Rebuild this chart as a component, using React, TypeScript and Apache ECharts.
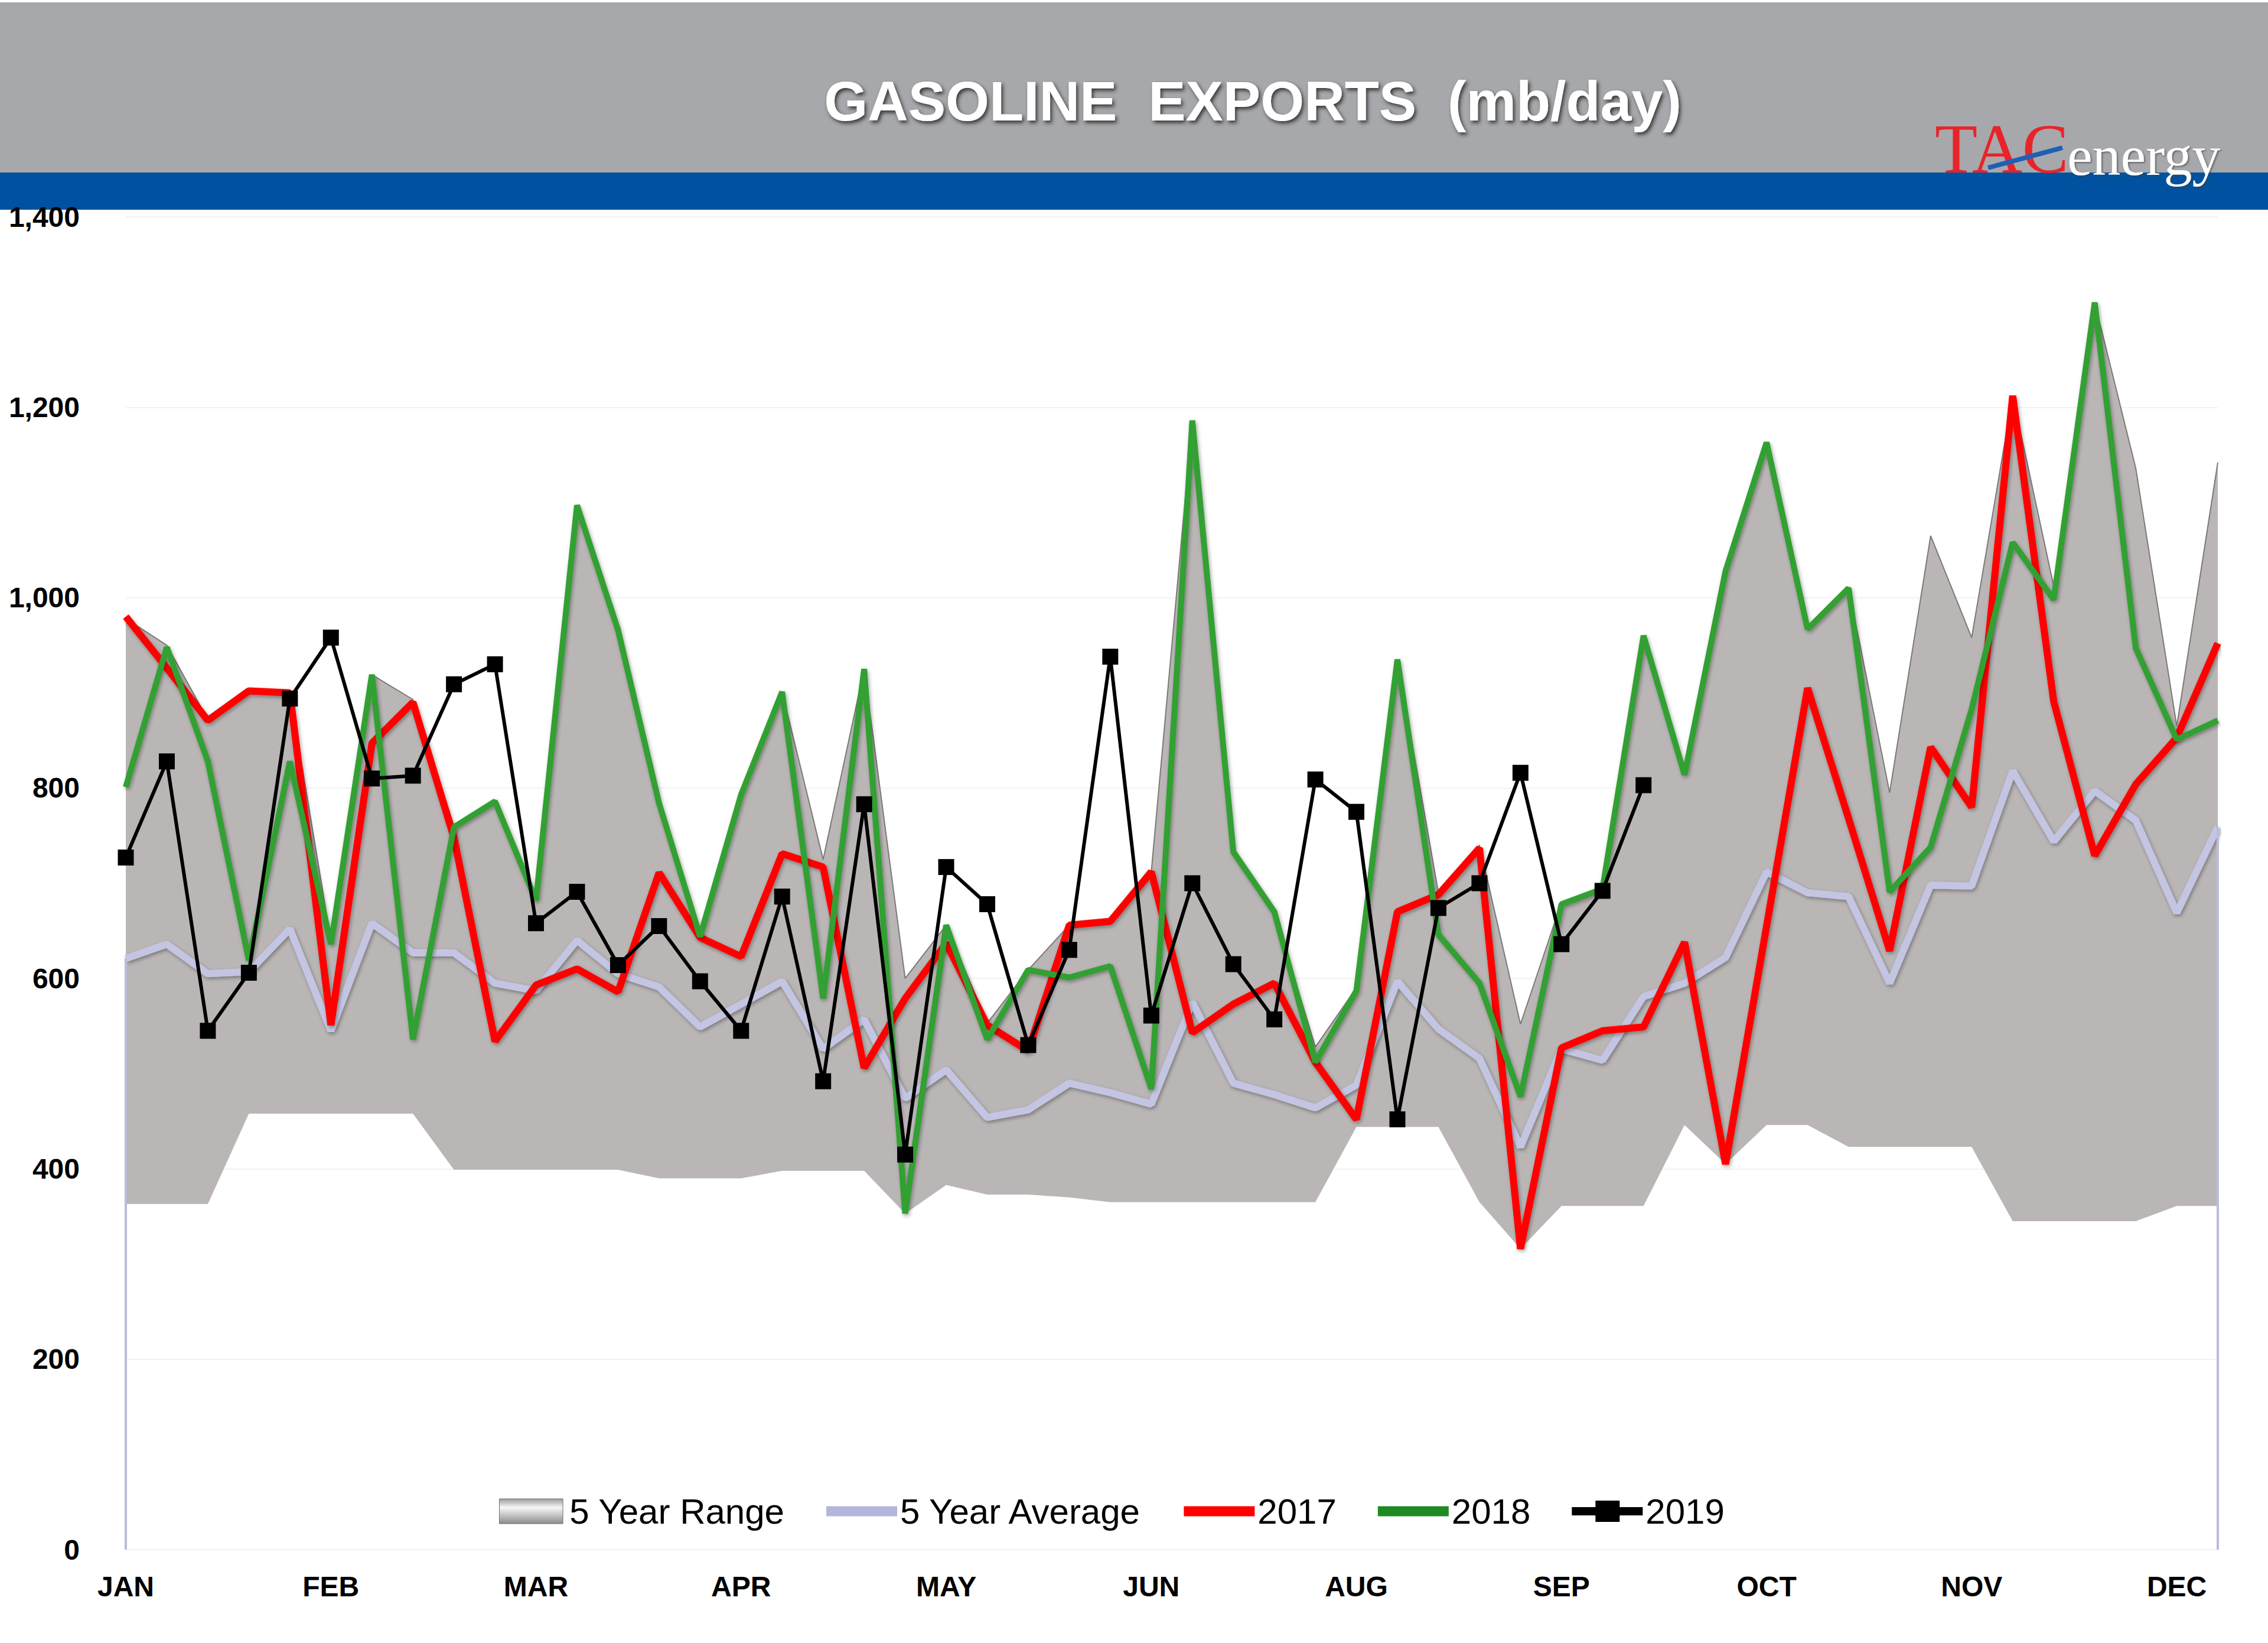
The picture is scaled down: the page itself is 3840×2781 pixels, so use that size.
import React, { useEffect, useRef } from 'react';
import * as echarts from 'echarts';

const monthTicks = ['JAN', 'FEB', 'MAR', 'APR', 'MAY', 'JUN', 'AUG', 'SEP', 'OCT', 'NOV', 'DEC'];
const weeks = Array.from({ length: 52 }, (_, i) => `W${i + 1}`);

const rangeLow = [363, 363, 363, 458, 458, 458, 458, 458, 399, 399, 399, 399, 399, 390, 390, 390, 398, 398, 398, 353,
  383, 373, 373, 370, 365, 365, 365, 365, 365, 365, 444, 444, 444, 365, 316, 361, 361, 361, 446, 405,
  446, 446, 423, 423, 423, 423, 345, 345, 345, 345, 361, 361];
const rangeHigh = [978, 950, 872, 903, 900, 640, 919, 893, 760, 786, 684, 1097, 966, 785, 649, 793, 901, 725, 925, 600,
  656, 553, 609, 656, 663, 712, 1186, 733, 670, 528, 590, 935, 690, 740, 552, 680, 696, 960, 815, 1028,
  1163, 966, 1010, 795, 1065, 958, 1212, 1012, 1310, 1136, 865, 1142];
const avg5 = [621, 636, 605, 607, 652, 545, 658, 627, 627, 595, 587, 640, 605, 591, 549, 573, 597, 526, 557, 474,
  504, 454, 462, 490, 480, 468, 575, 490, 478, 464, 488, 597, 547, 516, 423, 526, 514, 581, 595, 622,
  712, 690, 686, 595, 698, 697, 818, 744, 797, 766, 669, 759];
const y2017 = [980, 926, 871, 902, 900, 551, 847, 890, 748, 534, 593, 610, 586, 711, 643, 623, 731, 717, 506, 579,
  637, 551, 524, 656, 660, 712, 543, 573, 595, 512, 452, 670, 688, 737, 316, 527, 545, 549, 638, 405,
  655, 905, 768, 629, 843, 780, 1212, 891, 729, 804, 853, 952];
const y2018 = [801, 948, 828, 619, 828, 636, 919, 536, 759, 786, 682, 1097, 966, 784, 644, 793, 901, 579, 925, 353,
  656, 536, 609, 601, 613, 484, 1186, 733, 670, 512, 587, 935, 646, 595, 476, 678, 694, 960, 814, 1028,
  1163, 967, 1010, 691, 738, 883, 1058, 998, 1310, 947, 851, 871];
const y2019 = [727, 828, 545, 606, 894, 958, 810, 813, 909, 930, 658, 691, 614, 655, 597, 545, 686, 492, 783, 415,
  717, 678, 530, 630, 938, 561, 700, 615, 557, 809, 775, 452, 674, 700, 816, 636, 692, 803];

const FONT = '"Liberation Sans", Arial, sans-serif';
const LINE_ICON = 'path://M0,0H120V17H0Z';
const MARKER_ICON = 'path://M0,11H120V25H0Z M40,0H81V36H40Z';
const RANGE_ICON = 'path://M0,0H105V41H0Z';

export default function App() {
  const ref = useRef<HTMLDivElement>(null);

  useEffect(() => {
    if (!ref.current) return;
    const chart = echarts.init(ref.current, null, { renderer: 'svg' });
    const band = rangeHigh.map((h, i) => h - rangeLow[i]);
    const shadow = { shadowColor: 'rgba(0,0,0,0.35)', shadowBlur: 6, shadowOffsetX: 2, shadowOffsetY: 3 };

    const option: any = {
      animation: false,
      backgroundColor: '#ffffff',
      grid: { left: 213, right: 85, top: 367, bottom: 158, containLabel: false },
      graphic: [
        { type: 'rect', shape: { x: 0, y: 4, width: 3840, height: 288 }, style: { fill: '#a7a8ab' }, z: 0 },
        { type: 'rect', shape: { x: 0, y: 292, width: 3840, height: 63 }, style: { fill: '#0052a0' }, z: 0 },
        {
          type: 'text', x: 2121, y: 171, z: 10,
          style: {
            text: 'GASOLINE  EXPORTS  (mb/day)', fill: '#ffffff', fontSize: 95, fontWeight: 'bold', fontFamily: FONT,
            textAlign: 'center', textVerticalAlign: 'middle',
            textShadowColor: 'rgba(40,40,40,0.85)', textShadowBlur: 6, textShadowOffsetX: 3, textShadowOffsetY: 4,
          },
        },
        {
          type: 'text', x: 3276, y: 252, z: 10,
          style: {
            text: 'TAC', fill: '#e8242a', fontSize: 118, fontFamily: '"Liberation Serif", "Times New Roman", serif',
            textAlign: 'left', textVerticalAlign: 'middle',
          },
        },
        {
          type: 'line', z: 11,
          shape: { x1: 3366, y1: 284, x2: 3492, y2: 250 },
          style: { stroke: '#1f5fb5', lineWidth: 8 },
        },
        {
          type: 'text', x: 3500, y: 263, z: 10,
          style: {
            text: 'energy', fill: '#ffffff', fontSize: 96, fontFamily: '"Liberation Serif", "Times New Roman", serif',
            textAlign: 'left', textVerticalAlign: 'middle',
            textShadowColor: 'rgba(60,60,60,0.6)', textShadowBlur: 3, textShadowOffsetX: 2, textShadowOffsetY: 2,
          },
        },
      ],
      legend: {
        left: 845, top: 2528, itemGap: 70, itemWidth: 120, itemHeight: 42, padding: 0, symbolKeepAspect: true,
        textStyle: { fontSize: 60, color: '#000', fontFamily: FONT },
        data: [
          {
            name: '5 Year Range', icon: RANGE_ICON,
            itemStyle: {
              color: {
                type: 'linear', x: 0, y: 0, x2: 0, y2: 1,
                colorStops: [
                  { offset: 0, color: '#9b9b9b' }, { offset: 0.35, color: '#f7f7f7' }, { offset: 1, color: '#8c8c8c' },
                ],
              },
              borderColor: '#6f6f6f', borderWidth: 1,
            },
          },
          { name: '5 Year Average', icon: LINE_ICON, itemStyle: { color: '#b3b5da' } },
          { name: '2017', icon: LINE_ICON, itemStyle: { color: '#ff0000' } },
          { name: '2018', icon: LINE_ICON, itemStyle: { color: '#1f8a22' } },
          { name: '2019', icon: MARKER_ICON, itemStyle: { color: '#000000' } },
        ],
      },
      xAxis: {
        type: 'category', data: weeks, boundaryGap: false,
        axisTick: { show: false },
        axisLine: { lineStyle: { color: '#c6c6c6', width: 8, shadowColor: 'rgba(0,0,0,0.25)', shadowBlur: 8, shadowOffsetY: 2 } },
        axisLabel: {
          interval: 0, margin: 38, fontSize: 48, fontWeight: 'bold', color: '#000', fontFamily: FONT,
          formatter: (_v: string, i: number) => (i % 5 === 0 ? monthTicks[i / 5] ?? '' : ''),
        },
        splitLine: { show: false },
      },
      yAxis: {
        type: 'value', min: 0, max: 1400, interval: 200,
        axisLine: { show: false }, axisTick: { show: false },
        axisLabel: {
          margin: 78, fontSize: 48, fontWeight: 'bold', color: '#000', fontFamily: FONT,
          formatter: (v: number) => v.toLocaleString('en-US'),
        },
        splitLine: { lineStyle: { color: '#f2f2f2', width: 2 } },
      },
      series: [
        {
          name: 'rangeBase', type: 'line', stack: 'range', data: rangeLow, symbol: 'none', silent: true,
          lineStyle: { opacity: 0 }, z: 1,
        },
        {
          name: '5 Year Range', type: 'line', stack: 'range', data: band, symbol: 'none', silent: true,
          lineStyle: { color: '#7d7979', width: 2 },
          itemStyle: { color: '#bab6b6' },
          areaStyle: { color: '#bab6b6', opacity: 1 }, z: 1,
        },
        {
          name: '5 Year Average', type: 'line', data: avg5, symbol: 'none',
          lineStyle: { color: '#c3c5e2', width: 12, ...shadow },
          itemStyle: { color: '#c3c5e2' }, z: 2,
          markLine: {
            symbol: 'none', silent: true, label: { show: false },
            lineStyle: { color: '#b9bcdc', width: 4, type: 'solid' },
            data: [
              [{ coord: [weeks[0], 0] }, { coord: [weeks[0], avg5[0]] }],
              [{ coord: [weeks[51], 0] }, { coord: [weeks[51], avg5[51]] }],
            ],
          },
        },
        {
          name: '2017', type: 'line', data: y2017, symbol: 'none',
          lineStyle: { color: '#ff0000', width: 12, ...shadow }, itemStyle: { color: '#ff0000' }, z: 3,
        },
        {
          name: '2018', type: 'line', data: y2018, symbol: 'none',
          lineStyle: { color: '#33a032', width: 10, ...shadow }, itemStyle: { color: '#2d9a2d' }, z: 4,
        },
        {
          name: '2019', type: 'line', data: y2019, symbol: 'rect', symbolSize: 27, showSymbol: true,
          lineStyle: { color: '#000000', width: 6 }, itemStyle: { color: '#000000' }, z: 5,
        },
      ],
    };
    chart.setOption(option);
    return () => chart.dispose();
  }, []);

  return <div ref={ref} style={{ position: 'fixed', left: 0, top: 0, width: 3840, height: 2781, background: '#fff' }} />;
}
